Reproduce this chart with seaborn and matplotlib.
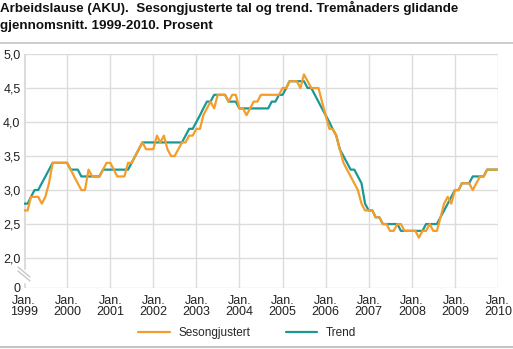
import numpy as np
import pandas as pd
import matplotlib
matplotlib.use("Agg")
import matplotlib.pyplot as plt
import matplotlib.dates as mdates
from matplotlib.lines import Line2D
import seaborn as sns

# ---------------- data ----------------
start_month = "1999-01-01"
sesongjustert = [
    2.7, 2.7, 2.9, 2.9, 2.9, 2.8, 2.9, 3.1, 3.4, 3.4, 3.4, 3.4,   # 1999
    3.4, 3.3, 3.2, 3.1, 3.0, 3.0, 3.3, 3.2, 3.2, 3.2, 3.3, 3.4,   # 2000
    3.4, 3.3, 3.2, 3.2, 3.2, 3.4, 3.4, 3.5, 3.6, 3.7, 3.6, 3.6,   # 2001
    3.6, 3.8, 3.7, 3.8, 3.6, 3.5, 3.5, 3.6, 3.7, 3.7, 3.8, 3.8,   # 2002
    3.9, 3.9, 4.1, 4.2, 4.3, 4.2, 4.4, 4.4, 4.4, 4.3, 4.4, 4.4,   # 2003
    4.2, 4.2, 4.1, 4.2, 4.3, 4.3, 4.4, 4.4, 4.4, 4.4, 4.4, 4.4,   # 2004
    4.5, 4.5, 4.6, 4.6, 4.6, 4.5, 4.7, 4.6, 4.5, 4.5, 4.5, 4.3,   # 2005
    4.1, 3.9, 3.9, 3.8, 3.6, 3.4, 3.3, 3.2, 3.1, 3.0, 2.8, 2.7,   # 2006
    2.7, 2.7, 2.6, 2.6, 2.5, 2.5, 2.4, 2.4, 2.5, 2.5, 2.4, 2.4,   # 2007
    2.4, 2.4, 2.3, 2.4, 2.4, 2.5, 2.4, 2.4, 2.6, 2.8, 2.9, 2.8,   # 2008
    3.0, 3.0, 3.1, 3.1, 3.1, 3.0, 3.1, 3.2, 3.2, 3.3, 3.3, 3.3,   # 2009
    3.3,                                                          # 2010
]
trend = [
    2.8, 2.8, 2.9, 3.0, 3.0, 3.1, 3.2, 3.3, 3.4, 3.4, 3.4, 3.4,   # 1999
    3.4, 3.3, 3.3, 3.3, 3.2, 3.2, 3.2, 3.2, 3.2, 3.2, 3.3, 3.3,   # 2000
    3.3, 3.3, 3.3, 3.3, 3.3, 3.3, 3.4, 3.5, 3.6, 3.7, 3.7, 3.7,   # 2001
    3.7, 3.7, 3.7, 3.7, 3.7, 3.7, 3.7, 3.7, 3.7, 3.8, 3.9, 3.9,   # 2002
    4.0, 4.1, 4.2, 4.3, 4.3, 4.4, 4.4, 4.4, 4.4, 4.3, 4.3, 4.3,   # 2003
    4.2, 4.2, 4.2, 4.2, 4.2, 4.2, 4.2, 4.2, 4.2, 4.3, 4.3, 4.4,   # 2004
    4.4, 4.5, 4.6, 4.6, 4.6, 4.6, 4.6, 4.5, 4.5, 4.4, 4.3, 4.2,   # 2005
    4.1, 4.0, 3.9, 3.8, 3.6, 3.5, 3.4, 3.3, 3.3, 3.2, 3.1, 2.8,   # 2006
    2.7, 2.7, 2.6, 2.6, 2.5, 2.5, 2.5, 2.5, 2.5, 2.4, 2.4, 2.4,   # 2007
    2.4, 2.4, 2.4, 2.4, 2.5, 2.5, 2.5, 2.5, 2.6, 2.7, 2.8, 2.9,   # 2008
    3.0, 3.0, 3.1, 3.1, 3.1, 3.2, 3.2, 3.2, 3.2, 3.3, 3.3, 3.3,   # 2009
    3.3,                                                          # 2010
]
series_names = ["Sesongjustert", "Trend"]
series_colors = {"Sesongjustert": "#F59D2A", "Trend": "#1A9894"}
y_ticks = [2.0, 2.5, 3.0, 3.5, 4.0, 4.5, 5.0]
y_tick_labels = ["2,0", "2,5", "3,0", "3,5", "4,0", "4,5", "5,0"]
zero_label = "0"
tick_years = list(range(1999, 2011))
title_lines = [
    "Arbeidslause (AKU).  Sesongjusterte tal og trend. Tremånaders glidande",
    "gjennomsnitt. 1999-2010. Prosent",
]

# ---------------- frame ----------------
n = len(sesongjustert)
dates = pd.date_range(start_month, periods=n, freq="MS")
df = pd.DataFrame({
    "dato": np.concatenate([dates.values, dates.values]),
    "verdi": sesongjustert + trend,
    "serie": ["Sesongjustert"] * n + ["Trend"] * n,
})

sns.set_theme(style="white")
plt.rcParams["font.family"] = ["Liberation Sans", "DejaVu Sans"]

W, H = 513, 349
fig = plt.figure(figsize=(W / 100, H / 100), dpi=100)
ax_left, ax_right, ax_top, ax_bot = 24, 498, 54, 288
ax = fig.add_axes([ax_left / W, 1 - ax_bot / H, (ax_right - ax_left) / W, (ax_bot - ax_top) / H])

y_zero_pos = 1.56
ax.set_xlim(dates[0], dates[-1])
ax.set_ylim(y_zero_pos, 5.0)

grid_c = "#dcdcdc"
for yv in y_ticks:
    ax.axhline(yv, color=grid_c, lw=1.0, zorder=0)
for yr in tick_years[1:]:
    ax.axvline(pd.Timestamp(f"{yr}-01-01"), color=grid_c, lw=1.0, zorder=0)

sns.lineplot(data=df, x="dato", y="verdi", hue="serie", hue_order=["Trend", "Sesongjustert"],
             palette=series_colors, linewidth=1.6, legend=False, ax=ax, zorder=3)

for s in ax.spines.values():
    s.set_visible(False)

# left axis bar with break
frac_break = (1.85 - y_zero_pos) / (5.0 - y_zero_pos)
ax.axvline(dates[0], ymin=frac_break, ymax=1.0, color="#dcdcdc", lw=2.2, zorder=1)
ax.axvline(dates[0], ymin=0, ymax=(1.62 - y_zero_pos) / (5.0 - y_zero_pos), color="#dcdcdc", lw=2.2, zorder=1)
for off in (0, 4):
    fig.add_artist(Line2D([18 / W, 30 / W], [1 - (267 + off) / H, 1 - (277 + off) / H],
                          transform=fig.transFigure, color="#c8c8c8", lw=1.0))
# baseline
ax.axhline(y_zero_pos, color="#dcdcdc", lw=1.0, zorder=1)

# ticks
ax.set_yticks([y_zero_pos] + y_ticks)
ax.set_yticklabels([zero_label] + y_tick_labels)
ax.set_xticks([pd.Timestamp(f"{yr}-01-01") for yr in tick_years])
ax.set_xticklabels([f"Jan.\n{yr}" for yr in tick_years], linespacing=0.95)
ax.xaxis.set_minor_locator(mdates.MonthLocator())
ax.tick_params(axis="y", length=0, pad=2.5, labelsize=9, labelcolor="#222222")
ax.tick_params(axis="x", which="major", direction="in", length=3.5, width=0.8, color="#c8c8c8",
               pad=5, labelsize=9, labelcolor="#222222")
ax.tick_params(axis="x", which="minor", direction="in", length=3.5, width=0.8, color="#c8c8c8")
ax.set_xlabel("")
ax.set_ylabel("")

# title
fig.text(0.5 / W, 1 - 12 / H, title_lines[0], fontsize=9.6, fontweight="bold", va="baseline", ha="left", color="#111111")
fig.text(0.5 / W, 1 - 28.5 / H, title_lines[1], fontsize=9.6, fontweight="bold", va="baseline", ha="left", color="#111111")
fig.add_artist(Line2D([0, 1], [1 - 43 / H] * 2, transform=fig.transFigure, color="#c4c4c4", lw=1.2))
fig.add_artist(Line2D([0, 1], [1 - 347 / H] * 2, transform=fig.transFigure, color="#c4c4c4", lw=1.5))

# legend
handles = [Line2D([], [], color=series_colors[s], lw=1.6) for s in series_names]
fig.legend(handles, series_names, loc="center", bbox_to_anchor=(247 / W, 1 - 333 / H), ncol=2,
           frameon=False, handlelength=2.7, handletextpad=0.7, columnspacing=3.0, fontsize=8.5)

fig.savefig("out.png", dpi=100)
